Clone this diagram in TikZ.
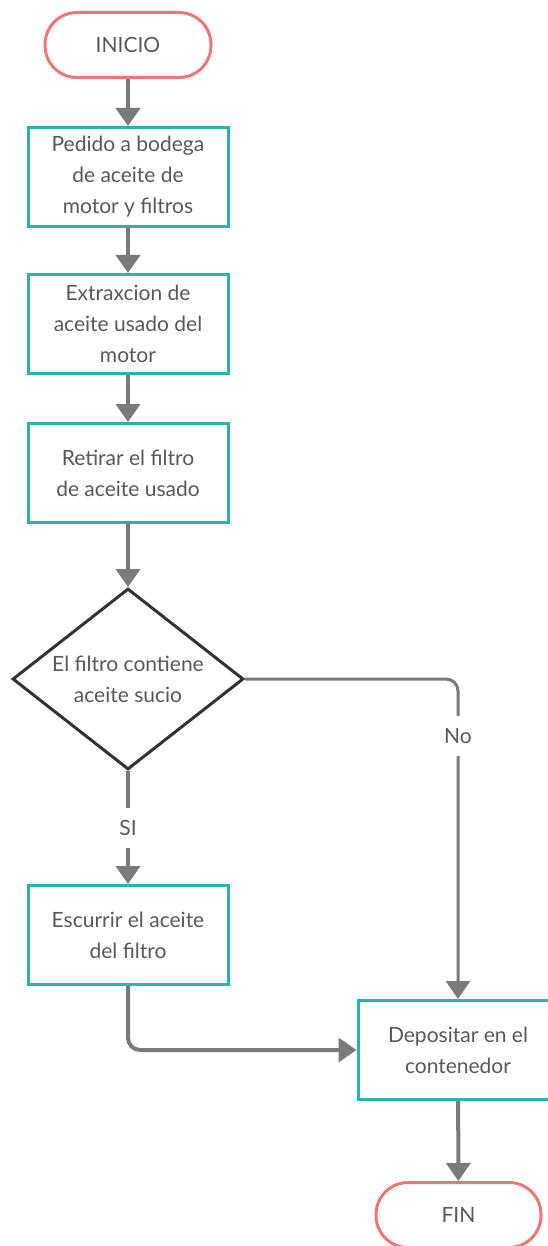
\documentclass[tikz,border=0pt]{standalone}
\usepackage{fontspec}
\setmainfont{Lato}
\usetikzlibrary{arrows.meta,shapes.geometric}
\definecolor{teal1}{RGB}{43,178,174}
\definecolor{salmon}{RGB}{240,118,118}
\definecolor{lgray}{RGB}{122,122,122}
\definecolor{txt}{RGB}{88,88,88}
\definecolor{dgray}{RGB}{51,51,51}
\tikzset{
  basefont/.style={text=txt, font=\fontsize{21}{31}\selectfont},
  proc/.style={basefont, draw=teal1, line width=3pt, minimum width=200pt, minimum height=99pt, inner sep=0pt, align=center},
  term/.style={basefont, draw=salmon, line width=3pt, rounded corners=32pt, minimum width=166pt, minimum height=65pt, inner sep=0pt},
  dec/.style={draw=dgray, line width=3pt, diamond, minimum width=231pt, minimum height=181pt, inner sep=0pt},
  dectext/.style={basefont, align=center, inner sep=0pt},
  lbl/.style={basefont, fill=white, inner sep=0pt, minimum height=40pt, minimum width=30pt},
  conn/.style={draw=lgray, line width=4pt, -{Triangle[width=24pt,length=18pt]}},
}
\begin{document}
\begin{tikzpicture}[x=1pt,y=-1pt]
\useasboundingbox (0,0) rectangle (547,1246);
\node[term] (ini) at (128,45) {INICIO};
\node[proc] (b1) at (128,177) {Pedido a bodega\\de aceite de\\motor y filtros};
\node[proc] (b2) at (128,324) {Extraxcion de\\aceite usado del\\motor};
\node[proc] (b3) at (128,473) {Retirar el filtro\\de aceite usado};
\node[dec] (d) at (128,679) {};
\node[dectext] (dt) at (128,679) {El filtro contiene\\aceite sucio};
\node[proc] (b4) at (128,935) {Escurrir el aceite\\del filtro};
\node[proc] (b5) at (458,1050) {Depositar en el\\contenedor};
\node[term, minimum width=165pt] (fin) at (458.5,1215) {FIN};

\draw[conn] (ini) -- (b1);
\draw[conn] (b1) -- (b2);
\draw[conn] (b2) -- (b3);
\draw[conn] (b3) -- (d.north);
\draw[conn] (d.south) -- node[lbl] (si) {SI} (b4.north);
\draw[conn, line width=3pt, rounded corners=12pt] (d.east) -| node[lbl, pos=0.589] (no) {No} (b5.north);
\draw[conn, rounded corners=12pt] (b4.south) |- (b5.west);
\draw[conn] (b5) -- (fin);
\end{tikzpicture}
\end{document}
